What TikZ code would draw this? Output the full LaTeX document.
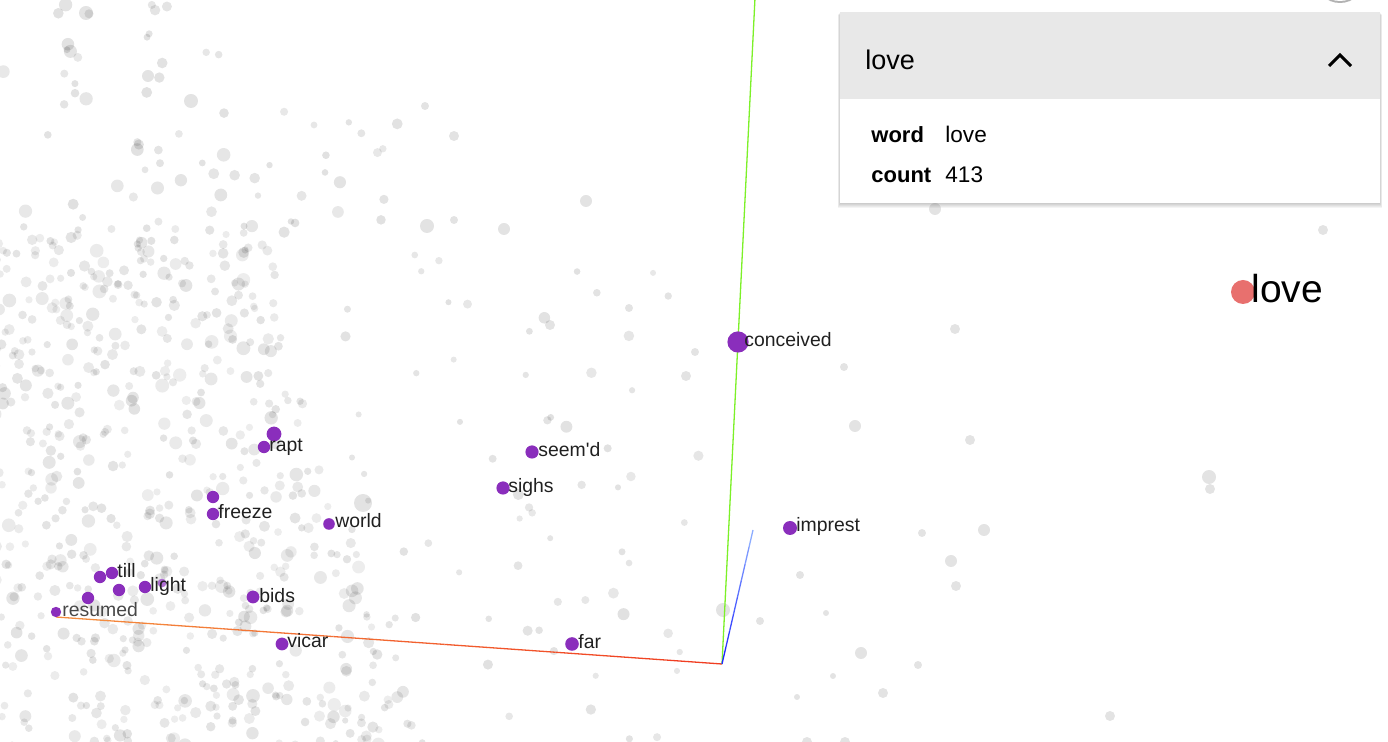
\documentclass[tikz,border=0pt]{standalone}
\usepackage{fontspec}
\setmainfont{Liberation Sans}
\usetikzlibrary{calc}

\definecolor{purp}{RGB}{138,46,188}
\definecolor{lovered}{RGB}{232,112,110}
\definecolor{hdrgray}{RGB}{232,232,232}
\definecolor{axorange}{RGB}{244,140,62}
\definecolor{axred}{RGB}{240,62,34}
\definecolor{axgreen}{RGB}{124,240,40}
\definecolor{axblue}{RGB}{32,40,255}
\definecolor{axlblue}{RGB}{140,172,255}
\definecolor{ink}{RGB}{32,32,32}

\tikzset{
  word/.style={anchor=base west, inner sep=0pt, text=ink, font=\fontsize{9.7}{11}\selectfont},
  haze/.style={fill=black, opacity=0.11},
  key/.style={anchor=base west, inner sep=0pt, font=\fontsize{11}{13}\selectfont\bfseries},
  val/.style={anchor=base west, inner sep=0pt, font=\fontsize{11.3}{13}\selectfont}
}

\begin{document}
\begin{tikzpicture}[x=0.5pt, y=-0.5pt]
    \useasboundingbox (0,0) rectangle (1388,742);
    \clip (0,0) rectangle (1388,742);

    % point cloud, upper left
    \pgfmathsetseed{413}
    \foreach \i in {1,...,45}{
        \pgfmathsetmacro{\px}{-5+230*rnd}
        \pgfmathsetmacro{\py}{230*rnd}
        \pgfmathsetmacro{\r}{1.7+1.8*pow(rnd,2)}
        \pgfmathsetmacro{\op}{0.09+0.03*rnd}
        \fill[black, opacity=\op] (\px,\py) circle (\r pt);
    }
    \foreach \i in {1,...,25}{
        \pgfmathsetmacro{\px}{200+220*rnd}
        \pgfmathsetmacro{\py}{110+160*rnd}
        \pgfmathsetmacro{\r}{1.6+1.6*pow(rnd,2)}
        \pgfmathsetmacro{\op}{0.09+0.03*rnd}
        \fill[black, opacity=\op] (\px,\py) circle (\r pt);
    }
    % point cloud, dense part
    \foreach \i in {1,...,660}{
        \pgfmathsetmacro{\py}{765-540*pow(rnd,1.15)}
        \pgfmathsetmacro{\px}{-8+(270+0.3*(\py-225))*pow(rnd,1.15)}
        \pgfmathsetmacro{\r}{1.8+1.7*pow(rnd,2)}
        \pgfmathsetmacro{\op}{0.07+0.045*rnd}
        \fill[black, opacity=\op] (\px,\py) circle (\r pt);
    }
    % point cloud, middle field
    \foreach \i in {1,...,75}{
        \pgfmathsetmacro{\px}{330+370*rnd}
        \pgfmathsetmacro{\py}{250+500*rnd}
        \pgfmathsetmacro{\r}{1.5+1.6*pow(rnd,2)}
        \pgfmathsetmacro{\op}{0.09+0.03*rnd}
        \fill[black, opacity=\op] (\px,\py) circle (\r pt);
    }
    % loose points
    \foreach \px/\py/\r in {425/106/2, 454/136/2.5, 586/201/3, 427/226/3.5, 454/220/2,
        504/229/3, 629/308/2, 550/325/2.5, 935/209/3, 1323/230/2.5, 955/329/2.5,
        844/367/2, 855/426/3, 970/440/2.5, 1209/477/3.5, 1210/489/2.5, 922/533/2,
        984/530/3, 951/561/3, 956/586/2.5, 800/575/2, 826/613/1.5, 760/621/2,
        861/653/3, 918/665/2, 833/676/1.5, 797/697/1.5, 883/693/2.5, 1110/716/2.5,
        807/742/2.5, 845/742/2.5, 723/610/3.5, 686/376/2.5, 695/352/2, 86/13/3.5,
        148/76/3, 191/101/3.5, 363/503/4.5}{
        \fill[haze] (\px,\py) circle (\r pt);
    }

    % axes
    \coordinate (origin) at (722,664);
    \coordinate (xend) at (56,617);
    \coordinate (yend) at (755,-2);
    \coordinate (zend) at (753,530);
    \foreach \k in {0,...,11}{
        \pgfmathsetmacro{\a}{\k/12}
        \pgfmathsetmacro{\b}{(\k+1)/12}
        \pgfmathsetmacro{\c}{100*\k/11}
        \draw[axred!\c!axorange, line width=0.65pt] ($(xend)!\a!(origin)$) -- ($(xend)!\b!(origin)$);
    }
    \draw[axgreen, line width=0.65pt] (origin) -- (yend);
    \foreach \k in {0,...,7}{
        \pgfmathsetmacro{\a}{\k/8}
        \pgfmathsetmacro{\b}{(\k+1)/8}
        \pgfmathsetmacro{\c}{100*\k/7}
        \draw[axlblue!\c!axblue, line width=0.65pt] ($(origin)!\a!(zend)$) -- ($(origin)!\b!(zend)$);
    }

    % neighbours
    \fill[purp] (738,342) circle (5.3pt);
    \fill[purp] (274,434) circle (3.7pt);
    \fill[purp] (264,447) circle (3.1pt);
    \fill[purp] (532,452) circle (3.3pt);
    \fill[purp] (503,488) circle (3.3pt);
    \fill[purp] (213,497) circle (3.1pt);
    \fill[purp] (213,514) circle (3.1pt);
    \fill[purp] (329,524) circle (2.9pt);
    \fill[purp] (790,528) circle (3.5pt);
    \fill[purp] (100,577) circle (3.1pt);
    \fill[purp] (112,573) circle (3.1pt);
    \fill[purp] (119,590) circle (3.1pt);
    \fill[purp] (145,587) circle (3.1pt);
    \fill[purp!70] (162,583) circle (2.2pt);
    \fill[purp] (88,598) circle (3.1pt);
    \fill[purp] (56,612) circle (2.6pt);
    \fill[purp] (253,597) circle (3.2pt);
    \fill[purp] (282,644) circle (3.2pt);
    \fill[purp] (572,644) circle (3.4pt);

    \node[word] (conceived) at (744,347) {conceived};
    \node[word] (rapt) at (269,452) {rapt};
    \node[word] (seemd) at (538,457) {seem\textquotesingle d};
    \node[word] (sighs) at (508,493) {sighs};
    \node[word] (freeze) at (218,519) {freeze};
    \node[word] (world) at (335,528) {world};
    \node[word] (imprest) at (796,532) {imprest};
    \node[word] (till) at (117,578) {till};
    \node[word] (light) at (150,592) {light};
    \node[word, text=black!72] (resumed) at (62,617) {resumed};
    \node[word] (bids) at (259,603) {bids};
    \node[word] (vicar) at (287,648) {vicar};
    \node[word] (far) at (578,649) {far};

    % selected point
    \fill[lovered] (1243,292) circle (6pt);
    \node[anchor=base west, inner sep=0pt, font=\fontsize{19.5}{22}\selectfont] (lovelabel) at (1251,303) {love};

    % button at the top edge
    \fill[black!30] (1340,-22) circle (12.5pt);
    \fill[white] (1340,-24) circle (12.5pt);

    % info panel
    \foreach \s in {1,...,5}{
        \fill[black, opacity=0.045] (840-0.4*\s,12+0.6*\s) rectangle (1380+0.4*\s,203+1.1*\s);
    }
    \fill[white] (840,12) rectangle (1380,203);
    \fill[hdrgray] (840,12) rectangle (1380,99);
    \node[anchor=base west, inner sep=0pt, font=\fontsize{13.5}{16}\selectfont] (title) at (865,70) {love};
    \draw[line width=1.5pt] (1329,66) -- (1340,55) -- (1351,66);
    \node[key] (wordkey) at (871,143) {word};
    \node[val] (wordval) at (945,143) {love};
    \node[key] (countkey) at (871,183) {count};
    \node[val] (countval) at (945,183) {413};
\end{tikzpicture}
\end{document}
